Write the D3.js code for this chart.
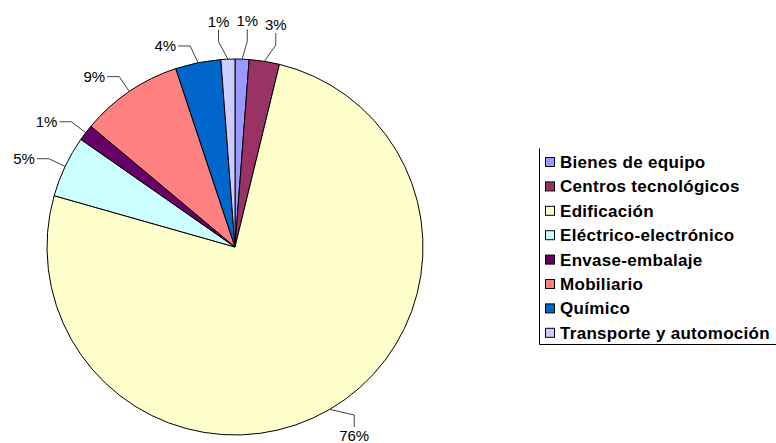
<!DOCTYPE html>
<html>
<head>
<meta charset="utf-8">
<script src="https://cdn.jsdelivr.net/npm/d3@7"></script>
<style>
  body { margin: 0; background: #fff; }
  svg { display: block; }
  .pct { font: 15px "Liberation Sans", Arial, sans-serif; fill: #000; }
  .legend text { font: bold 17px "Liberation Sans", Arial, sans-serif; fill: #000; letter-spacing: 0.3px; }
</style>
</head>
<body>
<div id="chart"></div>
<script>

const categories = ["Bienes de equipo", "Centros tecnológicos", "Edificación", "Eléctrico-electrónico",
  "Envase-embalaje", "Mobiliario", "Químico", "Transporte y automoción"];
const shares = [1.2, 2.6, 75.6, 5.3, 1.4, 8.8, 3.9, 1.2];
const colors = ["#9999FF", "#993366", "#FFFFCC", "#CCFFFF", "#660066", "#FF8080", "#0066CC", "#CCCCFF"];

const width = 776;
const height = 443;
const cx = 235;
const cy = 247;
const radius = 188;
const elbowRadius = radius + 18;

const svg = d3.select('#chart')
  .append('svg')
  .attr('width', width)
  .attr('height', height);

const total = d3.sum(shares);
const rows = categories.map((name, i) => ({ name: name, value: shares[i], color: colors[i] }));

const pie = d3.pie()
  .sort(null)
  .value(d => d.value);

const arcs = pie(rows);

const arc = d3.arc()
  .innerRadius(0)
  .outerRadius(radius);

const plot = svg.append('g')
  .attr('transform', `translate(${cx}, ${cy})`);

plot.selectAll('path.slice')
  .data(arcs)
  .join('path')
  .attr('class', 'slice')
  .attr('d', arc)
  .attr('fill', d => d.data.color)
  .attr('stroke', '#000')
  .attr('stroke-width', 1);

// label angles: start at the slice middle, then push crowded ones apart

const labels = arcs.map(a => {
  let mid = (a.startAngle + a.endAngle) / 2;
  if (mid > Math.PI) mid -= 2 * Math.PI;
  return { arc: a, mid: mid, angle: mid };
});

const minGap = 8 * Math.PI / 180;
const ordered = labels.slice().sort((a, b) => a.angle - b.angle);
for (let k = 0; k < 60; k++) {
  for (let j = 1; j < ordered.length; j++) {
    const gap = ordered[j].angle - ordered[j - 1].angle;
    if (gap < minGap) {
      const shift = (minGap - gap) / 2;
      ordered[j].angle += shift;
      ordered[j - 1].angle -= shift;
    }
  }
}

const polar = (angle, r) => [r * Math.sin(angle), -r * Math.cos(angle)];

const lineHeight = 15;
const tail = 12;
const maxBaseline = height - cy - 2;

labels.forEach(l => {
  l.text = Math.round(l.arc.data.value / total * 100) + '%';
  l.vertical = Math.abs(Math.sin(l.mid)) < Math.sin(10 * Math.PI / 180) || Math.cos(l.mid) < -0.7;
  l.edge = polar(l.mid, radius);
  const below = Math.cos(l.angle) < 0;
  // keep a bottom label inside the picture by sliding it round the circle
  if (l.vertical && below) {
    const maxY = maxBaseline - tail - lineHeight + 1;
    if (-elbowRadius * Math.cos(l.angle) > maxY) {
      const a = Math.acos(-maxY / elbowRadius);
      l.angle = l.angle > 0 ? a : -a;
    }
  }
  l.elbow = polar(l.angle, elbowRadius);
  const [ex, ey] = l.elbow;
  if (l.vertical) {
    l.end = below ? [ex, ey + tail] : [ex, ey - tail];
    l.x = ex;
    l.y = below ? ey + tail + lineHeight - 1 : ey - tail - 3;
    l.anchor = 'middle';
  } else {
    const left = Math.sin(l.angle) < 0;
    l.end = left ? [ex - tail, ey] : [ex + tail, ey];
    l.x = left ? ex - tail - 2 : ex + tail + 2;
    l.y = ey + 5;
    l.anchor = left ? 'end' : 'start';
  }
});

plot.selectAll('polyline.leader')
  .data(labels)
  .join('polyline')
  .attr('class', 'leader')
  .attr('points', d => [d.edge, d.elbow, d.end].map(p => p.join(',')).join(' '))
  .attr('fill', 'none')
  .attr('stroke', '#444')
  .attr('stroke-width', 1);

plot.selectAll('text.pct')
  .data(labels)
  .join('text')
  .attr('class', 'pct')
  .attr('x', d => d.x)
  .attr('y', d => d.y)
  .attr('text-anchor', d => d.anchor)
  .text(d => d.text);

// Legend (only the left and bottom sides of its frame show in the picture)

const legendX = 539;
const legendY = 148;
const legendH = 196;
const rowStep = 24.4;

const legend = svg.append('g')
  .attr('class', 'legend')
  .attr('transform', `translate(${legendX}, ${legendY})`);

legend.append('path')
  .attr('d', `M0.5,0.5 V${legendH + 0.5} H${width - legendX}`)
  .attr('fill', 'none')
  .attr('stroke', '#000')
  .attr('stroke-width', 1);

const item = legend.selectAll('g.item')
  .data(rows)
  .join('g')
  .attr('class', 'item')
  .attr('transform', (d, i) => `translate(0, ${14 + i * rowStep})`);

item.append('rect')
  .attr('x', 6.5)
  .attr('y', -4.5)
  .attr('width', 9)
  .attr('height', 9)
  .attr('fill', d => d.color)
  .attr('stroke', '#000')
  .attr('stroke-width', 1);

item.append('text')
  .attr('x', 21)
  .attr('y', 6)
  .text(d => d.name);

</script>
</body>
</html>
